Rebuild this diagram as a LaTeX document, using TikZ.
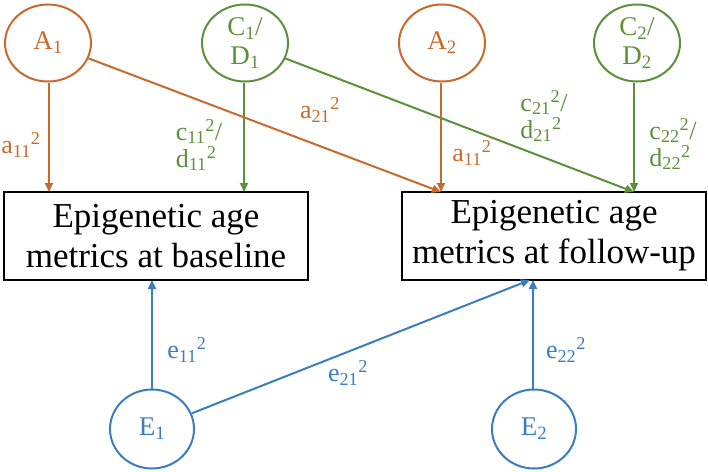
\documentclass[tikz,border=0pt]{standalone}
\usepackage{fontspec}
\setmainfont{Liberation Serif}
\usetikzlibrary{arrows.meta,shapes.geometric}
\definecolor{orA}{RGB}{201,106,43}
\definecolor{grC}{RGB}{94,143,58}
\definecolor{blE}{RGB}{58,125,192}
\begin{document}
\begin{tikzpicture}[x=1pt,y=-1pt,
  lat/.style={ellipse,draw,line width=2pt,minimum width=86pt,minimum height=77pt,inner sep=0pt,font=\fontsize{27}{29}\selectfont,align=center},
  obs/.style={draw,line width=1.5pt,minimum width=304pt,minimum height=88pt,align=center,font=\fontsize{35}{40}\selectfont},
  arr/.style={-{Triangle[length=9pt,width=8pt]},line width=2pt},
  lab/.style={font=\fontsize{26}{27}\selectfont,align=left,inner sep=0pt}]
\useasboundingbox (0,0) rectangle (708,471);
\node[obs] (B1) at (156,236) {Epigenetic age\\metrics at baseline};
\node[obs] (B2) at (554,236) {Epigenetic age\\metrics at follow-up};
\node[lat,orA] (A1) at (48,43) {A\textsubscript{1}};
\node[lat,grC] (C1) at (245,43) {C\textsubscript{1}/\\D\textsubscript{1}};
\node[lat,orA] (A2) at (442,43) {A\textsubscript{2}};
\node[lat,grC] (C2) at (637,43) {C\textsubscript{2}/\\D\textsubscript{2}};
\node[lat,blE,minimum width=84pt,minimum height=79pt] (E1) at (152,429) {E\textsubscript{1}};
\node[lat,blE,minimum width=84pt,minimum height=79pt] (E2) at (534,429) {E\textsubscript{2}};
\coordinate (b1a) at (49,192); \coordinate (b1c) at (244,192);
\coordinate (b2a) at (441,192); \coordinate (b2c) at (634,192);
\coordinate (b1e) at (152,280); \coordinate (b2e) at (533,280);
\coordinate (b2f) at (530,280);
\draw[arr,orA] (A1.south-|b1a) -- (b1a);
\draw[arr,grC] (C1.south-|b1c) -- (b1c);
\draw[arr,orA] (A1) -- (b2a);
\draw[arr,orA] (A2.south-|b2a) -- (b2a);
\draw[arr,grC] (C1) -- (b2c);
\draw[arr,grC] (C2.south-|b2c) -- (b2c);
\draw[arr,blE] (E1) -- (b1e);
\draw[arr,blE] (E1) -- (b2f);
\draw[arr,blE] (E2.north-|b2e) -- (b2e);
\node[lab,orA] (l1) at (21,145) {a\textsubscript{11}\textsuperscript{2}};
\node[lab,grC] (l2) at (199,145) {c\textsubscript{11}\textsuperscript{2}/\\d\textsubscript{11}\textsuperscript{2}};
\node[lab,orA] (l3) at (320,110) {a\textsubscript{21}\textsuperscript{2}};
\node[lab,orA] (l4) at (472,153) {a\textsubscript{11}\textsuperscript{2}};
\node[lab,grC] (l5) at (544,116) {c\textsubscript{21}\textsuperscript{2}/\\d\textsubscript{21}\textsuperscript{2}};
\node[lab,grC] (l6) at (673,144) {c\textsubscript{22}\textsuperscript{2}/\\d\textsubscript{22}\textsuperscript{2}};
\node[lab,blE] (l7) at (187,350) {e\textsubscript{11}\textsuperscript{2}};
\node[lab,blE] (l8) at (348,373) {e\textsubscript{21}\textsuperscript{2}};
\node[lab,blE] (l9) at (566,350) {e\textsubscript{22}\textsuperscript{2}};
\end{tikzpicture}
\end{document}
